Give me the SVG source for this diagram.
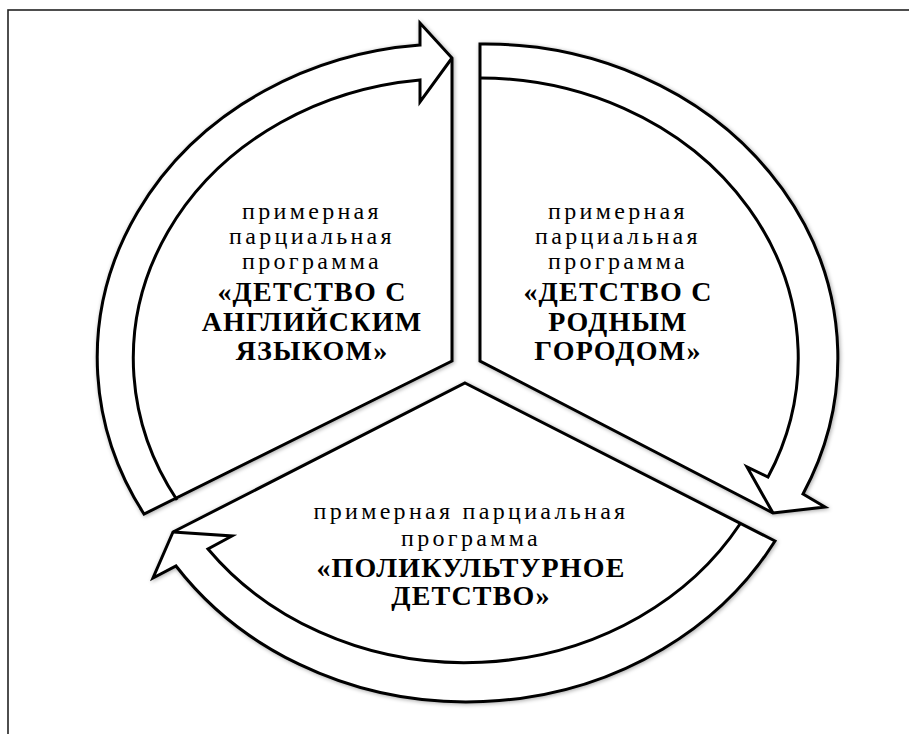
<svg xmlns="http://www.w3.org/2000/svg" width="909" height="734" viewBox="0 0 909 734">
<style>
.seg{fill:#fff;stroke:#000;stroke-width:3;stroke-linejoin:miter;filter:url(#sh)}
.inner{fill:none;stroke:#000;stroke-width:3;stroke-linejoin:miter}
.t{font-family:"Liberation Serif","Times New Roman",serif;font-size:24px;fill:#000;text-anchor:middle;letter-spacing:3.3px}
.b{font-family:"Liberation Serif","Times New Roman",serif;font-size:28px;font-weight:bold;fill:#000;text-anchor:middle;letter-spacing:1.2px}
</style>
<defs>
<filter id="sh" x="-10%" y="-10%" width="120%" height="120%">
<feGaussianBlur in="SourceAlpha" stdDeviation="2"/>
<feOffset dx="1" dy="1" result="b"/>
<feComponentTransfer><feFuncA type="linear" slope="0.35"/></feComponentTransfer>
<feMerge><feMergeNode/><feMergeNode in="SourceGraphic"/></feMerge>
</filter>
</defs>
<rect x="0" y="0" width="909" height="734" fill="#fff"/>
<rect x="8" y="10" width="1000" height="1000" fill="none" stroke="#222" stroke-width="1.6"/>
<g id="seg-left">
<path class="seg" d="M452,361 L144,514 A353,314 0 0 1 420,45 L420,23 L452,58 Z"/>
<path class="inner" d="M177,500 A319,280 0 0 1 420,80 L420,102 L452,58"/>
<text class="t" x="312" y="219">примерная</text>
<text class="t" x="312" y="244">парциальная</text>
<text class="t" x="312" y="269">программа</text>
<text class="b" x="312" y="301">«ДЕТСТВО С</text>
<text class="b" x="312" y="331">АНГЛИЙСКИМ</text>
<text class="b" x="312" y="360">ЯЗЫКОМ»</text>
</g>
<g id="seg-right">
<path class="seg" d="M480,361 L480,44 A353,314 0 0 1 803,494 L825,507 L773,513 Z"/>
<path class="inner" d="M480,78 A319,280 0 0 1 768,477 L747,467 L773,513"/>
<text class="t" x="618" y="219">примерная</text>
<text class="t" x="618" y="244">парциальная</text>
<text class="t" x="618" y="269">программа</text>
<text class="b" x="618" y="301">«ДЕТСТВО С</text>
<text class="b" x="618" y="331">РОДНЫМ</text>
<text class="b" x="618" y="360">ГОРОДОМ»</text>
</g>
<g id="seg-bottom">
<path class="seg" d="M465,383 L775,541 A353,314 0 0 1 176,566 L153,578 L173,532 Z"/>
<path class="inner" d="M740,524 A319,280 0 0 1 208,549 L232,536 L173,532"/>
<text class="t" x="471" y="519">примерная парциальная</text>
<text class="t" x="471" y="546">программа</text>
<text class="b" x="471" y="577">«ПОЛИКУЛЬТУРНОЕ</text>
<text class="b" x="471" y="605">ДЕТСТВО»</text>
</g>
<g id="connectors"></g>
</svg>
